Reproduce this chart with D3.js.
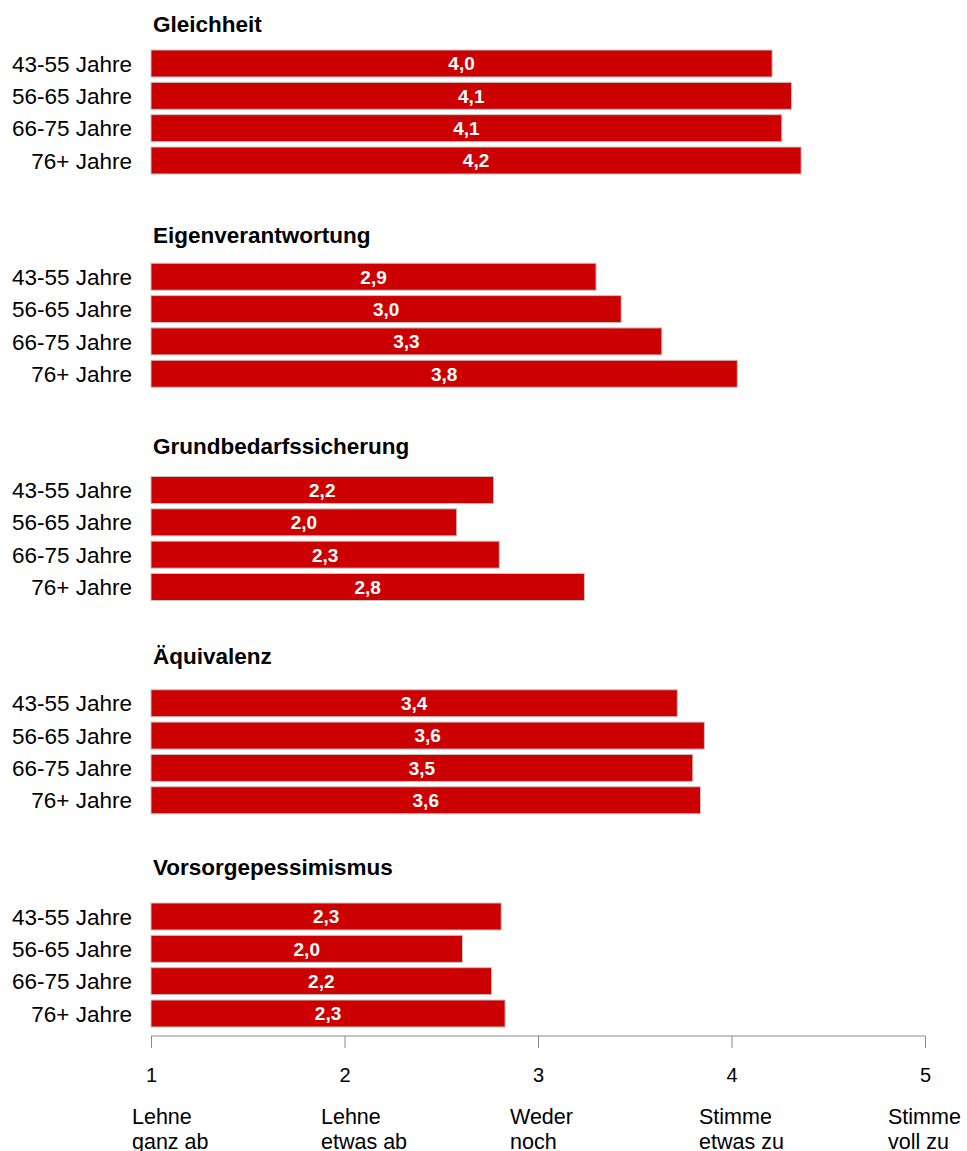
<!DOCTYPE html>
<html>
<head>
<meta charset="utf-8">
<script src="https://cdn.jsdelivr.net/npm/d3@7"></script>
<style>
  body { margin: 0; background: #fff; }
  text { font-family: "Liberation Sans", Arial, sans-serif; }
</style>
</head>
<body>
<svg id="chart" width="967" height="1151"></svg>
<script>
// categories
var groups = ["Gleichheit", "Eigenverantwortung", "Grundbedarfssicherung", "Äquivalenz", "Vorsorgepessimismus"];
var ages = ["43-55 Jahre", "56-65 Jahre", "66-75 Jahre", "76+ Jahre"];

// bar lengths as drawn (scale 1..5)
var gleichheit = [4.21, 4.31, 4.26, 4.36];
var eigenverantwortung = [3.30, 3.43, 3.64, 4.03];
var grundbedarf = [2.77, 2.58, 2.80, 3.24];
var aequivalenz = [3.72, 3.86, 3.80, 3.84];
var vorsorge = [2.81, 2.61, 2.76, 2.83];

// printed labels inside bars
var gleichheitLbl = ["4,0", "4,1", "4,1", "4,2"];
var eigenverantwortungLbl = ["2,9", "3,0", "3,3", "3,8"];
var grundbedarfLbl = ["2,2", "2,0", "2,3", "2,8"];
var aequivalenzLbl = ["3,4", "3,6", "3,5", "3,6"];
var vorsorgeLbl = ["2,3", "2,0", "2,2", "2,3"];

// axis
var ticks = [1, 2, 3, 4, 5];
var tickNames = [["Lehne", "ganz ab"], ["Lehne", "etwas ab"], ["Weder", "noch"], ["Stimme", "etwas zu"], ["Stimme", "voll zu"]];

var values = [gleichheit, eigenverantwortung, grundbedarf, aequivalenz, vorsorge];
var labels = [gleichheitLbl, eigenverantwortungLbl, grundbedarfLbl, aequivalenzLbl, vorsorgeLbl];

var svg = d3.select("#chart");

var x = d3.scaleLinear().domain([1, 5]).range([151, 925]);

// group layout
var titleY = d3.scaleLinear().domain([0, 4]).range([32, 875]);
var groupTop = d3.scaleLinear().domain([0, 4]).range([50, 903]);
var row = d3.scaleBand().domain(ages).range([0, 124]).paddingInner(0.165).paddingOuter(0);

groups.forEach(function(name, g) {
    var gEl = svg.append("g").attr("transform", "translate(0," + groupTop(g) + ")");

    svg.append("text")
        .attr("x", 153)
        .attr("y", titleY(g))
        .style("font-size", "22.5px")
        .style("font-weight", "bold")
        .text(name);

    var rows = ages.map(function(a, i) {
        return { age: a, v: values[g][i], lbl: labels[g][i] };
    });

    gEl.selectAll("rect")
        .data(rows)
        .enter()
        .append("rect")
        .attr("x", x(1))
        .attr("y", function(d) { return row(d.age); })
        .attr("width", function(d) { return x(d.v) - x(1); })
        .attr("height", row.bandwidth())
        .style("fill", "#cc0000")
        .style("stroke", "#c4c4c4")
        .style("stroke-width", 1);

    gEl.selectAll("text.age")
        .data(rows)
        .enter()
        .append("text")
        .attr("class", "age")
        .attr("x", 132)
        .attr("y", function(d) { return row(d.age) + row.bandwidth() / 2; })
        .attr("dy", "0.36em")
        .attr("text-anchor", "end")
        .style("font-size", "22.5px")
        .text(function(d) { return d.age; });

    gEl.selectAll("text.val")
        .data(rows)
        .enter()
        .append("text")
        .attr("class", "val")
        .attr("x", function(d) { return (x(1) + x(d.v)) / 2; })
        .attr("y", function(d) { return row(d.age) + row.bandwidth() / 2; })
        .attr("dy", "0.36em")
        .attr("text-anchor", "middle")
        .style("font-size", "19px")
        .style("font-weight", "bold")
        .style("fill", "#fff")
        .text(function(d) { return d.lbl; });
});

// x axis
var axis = d3.axisBottom(x).tickValues(ticks).tickSize(12).tickPadding(20).tickFormat(d3.format("d"));
var axG = svg.append("g")
    .attr("transform", "translate(0,1036)")
    .call(axis);
axG.select(".domain").attr("stroke", "#888").attr("d", "M" + x(1) + ",0H" + x(5));
axG.selectAll(".tick line").attr("stroke", "#888");
axG.selectAll(".tick text")
    .style("font-size", "20px")
    .style("font-family", "'Liberation Sans', Arial, sans-serif")
    .attr("fill", "#000");

// answer labels under the axis
var catX = d3.scalePoint().domain(ticks).range([132, 888]);

var names = svg.append("g").selectAll("text.cat")
    .data(ticks)
    .enter()
    .append("text")
    .attr("class", "cat")
    .attr("x", function(d) { return catX(d); })
    .attr("y", 1124)
    .style("font-size", "21.5px");

names.each(function(d, i) {
    var t = d3.select(this);
    tickNames[i].forEach(function(line, k) {
        t.append("tspan")
            .attr("x", catX(d))
            .attr("dy", k === 0 ? 0 : 25)
            .text(line);
    });
});
</script>
</body>
</html>
